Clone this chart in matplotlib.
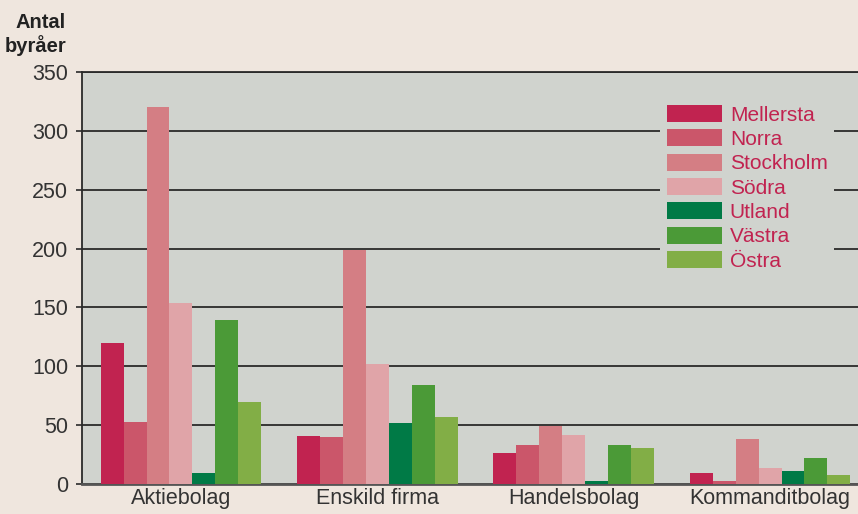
#!/usr/bin/env python3
"""
Antal byråer per bolagsform och region
"""
import matplotlib
matplotlib.use('Agg')
import matplotlib.pyplot as plt
import numpy as np

plt.rcParams['font.family'] = ['Liberation Sans', 'DejaVu Sans']

# data
categories = ['Aktiebolag', 'Enskild firma', 'Handelsbolag', 'Kommanditbolag']
regions = ['Mellersta', 'Norra', 'Stockholm', 'Södra', 'Utland', 'Västra', 'Östra']
mellersta = [120, 41, 26, 9]
norra = [53, 40, 33, 2.5]
stockholm = [320, 199, 49, 38]
sodra = [154, 102, 42, 14]
utland = [9, 52, 2.5, 11]
vastra = [139, 84, 33, 22]
ostra = [70, 57, 31, 7.5]
series = [mellersta, norra, stockholm, sodra, utland, vastra, ostra]

colors = ['#C12350', '#CB566A', '#D47E84', '#E0A4A8', '#007A46', '#4B9A37', '#82AE46']
BG = '#EFE6DE'
AX_BG = '#D0D3CE'
TXT = '#333333'

fig = plt.figure(figsize=(8.58, 5.14), dpi=100, facecolor=BG)
ax = fig.add_axes([82 / 858, 30 / 514, 1 - 82 / 858, 412 / 514])
ax.set_facecolor(AX_BG)

x = np.arange(len(categories))
w = 0.117
for i, (name, vals, c) in enumerate(zip(regions, series, colors)):
    ax.bar(x + (i - 3) * w, vals, width=w, color=c, label=name, zorder=3)

ax.set_xlim(-0.504, 3.448)
ax.set_ylim(0, 350)
ax.set_yticks(range(0, 351, 50))
ax.set_xticks(x)
ax.set_xticklabels(categories)
ax.tick_params(axis='y', length=4, width=1.2, color='#2a2a2a', labelsize=15.5,
               labelcolor=TXT, pad=6)
ax.tick_params(axis='x', length=0, labelsize=15.5, colors=TXT, pad=3)

ax.yaxis.grid(True, color='#2a2a2a', linewidth=1.3, zorder=1)
ax.set_axisbelow(True)
ax.spines['right'].set_visible(False)
for s in ['left', 'top']:
    ax.spines[s].set_color('#2a2a2a')
    ax.spines[s].set_linewidth(1.3)
ax.spines['bottom'].set_color('#555555')
ax.spines['bottom'].set_linewidth(2)

leg = ax.legend(loc='upper left', bbox_to_anchor=(0.732, 0.96), frameon=True,
                fontsize=15, handlelength=2.65, handleheight=0.88,
                handletextpad=0.38, labelspacing=0.22, borderpad=0.3)
leg.get_frame().set_facecolor(AX_BG)
leg.get_frame().set_edgecolor('none')
leg.get_frame().set_alpha(1)
leg.set_zorder(5)
for t in leg.get_texts():
    t.set_color('#C12350')

fig.text(66 / 858, 1 - 13 / 514, 'Antal\nbyråer', ha='right', va='top',
         fontsize=14.5, fontweight='bold', color='#222222', linespacing=1.15)

fig.savefig('out.png', dpi=100, facecolor=BG)
